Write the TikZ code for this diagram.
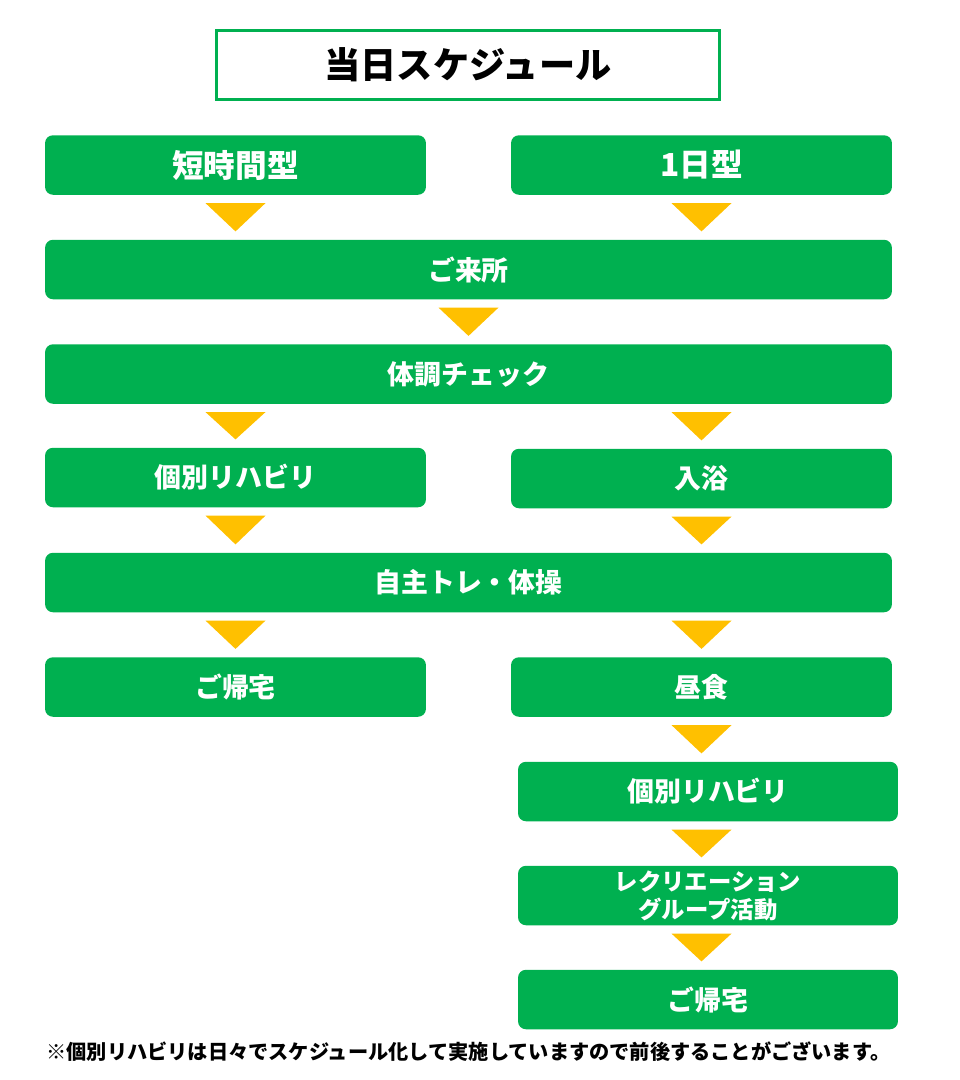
\documentclass[tikz,border=0pt]{standalone}
\usepackage{fontspec}
\setmainfont{Noto Sans CJK JP}
\usetikzlibrary{calc}
\definecolor{boxgreen}{RGB}{0,176,80}
\definecolor{triyellow}{RGB}{255,192,0}
\tikzset{
  box/.style={fill=boxgreen, rounded corners=4.5pt, inner sep=0pt, text=white,
    minimum height=1.19cm, font=\bfseries\fontsize{15.3}{18}\selectfont},
  half/.style={box, minimum width=7.62cm},
  full/.style={box, minimum width=16.94cm},
  tri/.style={fill=triyellow}
}
% yellow down-triangle between two boxes, centred under node #3
\newcommand{\flowtri}[3]{%
  \fill[tri] ($(#1.south -| #3)+(-30,8)$) -- ($(#1.south -| #3)+(30,8)$)
    -- ($(#2.north -| #3)+(0,-8)$) -- cycle;}
\begin{document}
\begin{tikzpicture}[x=0.02cm, y=-0.02cm]
\useasboundingbox (0,0) rectangle (960,1080);
\node (title) [draw=boxgreen, line width=1.9pt, minimum width=10.06cm, minimum height=1.38cm,
  font=\bfseries\fontsize{20.6}{24}\selectfont] at (468,65) {当日スケジュール};
\node (short)  [half, font=\bfseries\fontsize{18}{22}\selectfont] at (235.5,165) {短時間型};
\node (oneday) [half, font=\bfseries\fontsize{18}{22}\selectfont] at (701.5,165) {1日型};
\node (visit)  [full] at (468.5,269.5) {ご来所};
\node (check)  [full] at (468.5,374) {体調チェック};
\node (rehabL) [half] at (235.5,477.5) {個別リハビリ};
\node (bath)   [half] at (701.5,478.5) {入浴};
\node (selftr) [full] at (468.5,582.5) {自主トレ・体操};
\node (homeL)  [half] at (235.5,687) {ご帰宅};
\node (lunch)  [half] at (701.5,687) {昼食};
\node (rehabR) [half, minimum width=7.6cm] at (708,791.5) {個別リハビリ};
\node (recr)   [half, minimum width=7.6cm, align=center,
  font=\bfseries\fontsize{13.3}{15.9}\selectfont] at (708,895.5) {レクリエーション\\グループ活動};
\node (homeR)  [half, minimum width=7.6cm] at (708,999.5) {ご帰宅};
\node (note) [font=\bfseries\fontsize{11.5}{13}\selectfont] at (468.5,1052)
  {※個別リハビリは日々でスケジュール化して実施していますので前後することがございます。};
\flowtri{short}{visit}{short}
\flowtri{oneday}{visit}{oneday}
\flowtri{visit}{check}{visit}
\flowtri{check}{rehabL}{rehabL}
\flowtri{check}{bath}{bath}
\flowtri{rehabL}{selftr}{rehabL}
\flowtri{bath}{selftr}{bath}
\flowtri{selftr}{homeL}{homeL}
\flowtri{selftr}{lunch}{lunch}
\flowtri{lunch}{rehabR}{lunch}
\flowtri{rehabR}{recr}{lunch}
\flowtri{recr}{homeR}{lunch}
\end{tikzpicture}
\end{document}
